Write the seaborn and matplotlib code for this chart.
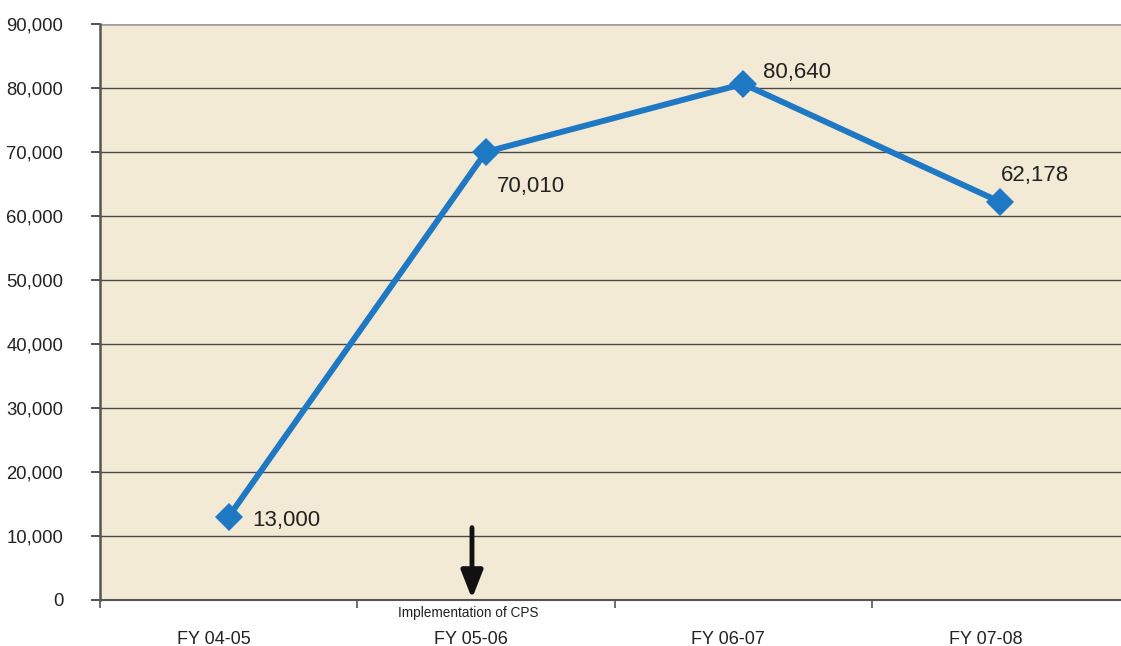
import matplotlib.pyplot as plt
import pandas as pd
import seaborn as sns

# data
years = ["FY 04-05", "FY 05-06", "FY 06-07", "FY 07-08"]
cases = [13000, 70010, 80640, 62178]
value_labels = ["13,000", "70,010", "80,640", "62,178"]
y_ticks = [0, 10000, 20000, 30000, 40000, 50000, 60000, 70000, 80000, 90000]

df = pd.DataFrame({"year": years, "cases": cases})

sns.set_theme(style="white")
plt.rcParams["font.family"] = ["Liberation Sans", "DejaVu Sans"]

fig = plt.figure(figsize=(11.21, 6.46), dpi=100)
ax = fig.add_axes([100 / 1121, 46 / 646, 1029 / 1121, 576 / 646])
ax.set_facecolor("#f3ead5")

sns.lineplot(data=df, x="year", y="cases", sort=False, color="#1f78c4",
             linewidth=4.3, marker="D", markersize=14, markeredgewidth=0, ax=ax, zorder=3)

ax.set_xlim(-0.5, 3.5)
ax.set_ylim(0, 90000)
ax.set_yticks(y_ticks)
ax.set_yticklabels([f"{v:,}" for v in y_ticks], fontsize=13.3, color="#222222")
for v in y_ticks[1:-1]:
    ax.axhline(v, color="#4a4a4a", linewidth=1.0, zorder=1)
ax.axhline(90000, color="#a0a0a0", linewidth=2.0, zorder=1)

# category ticks sit on the boundaries, labels in the middle (a bit left, like the original)
ax.set_xticks([-0.5, 0.5, 1.5, 2.5, 3.5])
ax.set_xticklabels([])
ax.set_xticks([i - 0.058 for i in range(len(years))], minor=True)
ax.set_xticklabels(years, minor=True, fontsize=13, color="#222222")
ax.tick_params(axis="x", which="major", length=6, width=1.2, color="#555555", direction="out", bottom=True)
ax.tick_params(axis="x", which="minor", length=0, pad=22)
ax.tick_params(axis="y", length=6.5, width=1.2, color="#333333", direction="out", left=True, pad=20)

for s in ["top", "right"]:
    ax.spines[s].set_visible(False)
ax.spines["left"].set_color("#555555")
ax.spines["left"].set_linewidth(1.8)
ax.spines["bottom"].set_color("#555555")
ax.spines["bottom"].set_linewidth(1.5)
ax.set_xlabel("")
ax.set_ylabel("")

# value labels
offsets = [(17, -3), (8, -25), (14, 8), (0, 19)]
for i, (lab, off) in enumerate(zip(value_labels, offsets)):
    ax.annotate(lab, (i, cases[i]), xytext=off, textcoords="offset points",
                fontsize=16, color="#222222", ha="left", va="center")

# arrow marking implementation of CPS
ax.annotate("", xy=(0.946, 0), xytext=(0.946, 11300),
            arrowprops=dict(arrowstyle="-|>,head_width=0.55,head_length=1.4", color="#111111",
                            lw=3.5, shrinkA=0, shrinkB=1))
ax.text(0.93, -2000, "Implementation of CPS", ha="center", va="center", fontsize=9.8, color="#222222")

plt.savefig("out.png", dpi=100)
